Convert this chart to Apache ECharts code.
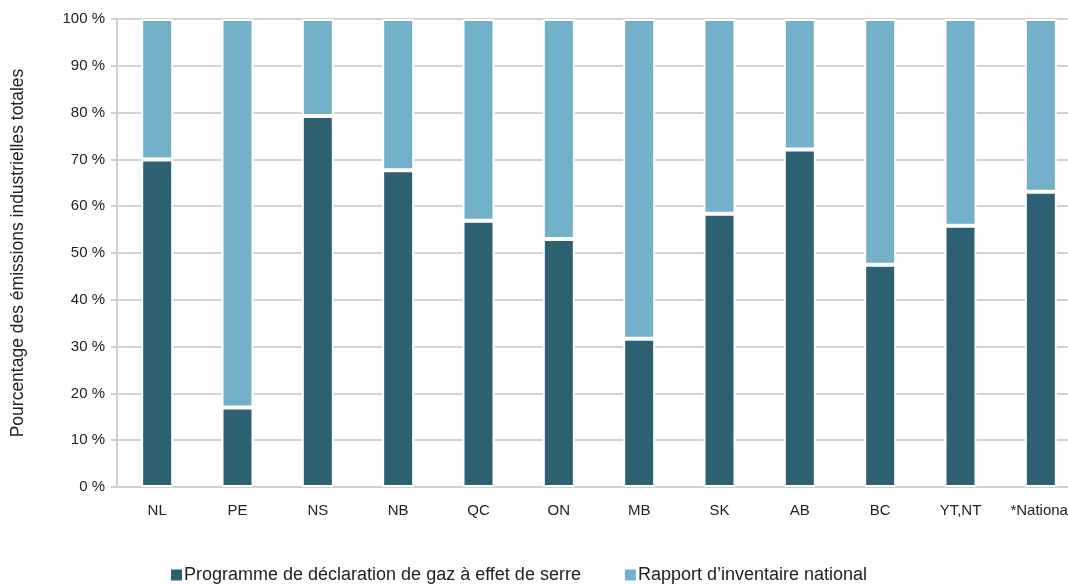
<!DOCTYPE html>
<html><head><meta charset="utf-8">
<script src="https://cdn.jsdelivr.net/npm/echarts@6/dist/echarts.min.js"></script>
<style>html,body{margin:0;padding:0;background:#fff}#c{width:1068px;height:584px}</style>
</head><body><div id="c"></div>
<script>
const categories = ['NL','PE','NS','NB','QC','ON','MB','SK','AB','BC','YT,NT','*National'];
const programmeValues = [70, 17, 79.3, 67.7, 56.9, 53, 31.7, 58.4, 72.1, 47.5, 55.8, 63.1];
const rapportValues = [30, 83, 20.7, 32.3, 43.1, 47, 68.3, 41.6, 27.9, 52.5, 44.2, 36.9];
const seriesNames = ['Programme de déclaration de gaz à effet de serre', 'Rapport d\u2019inventaire national'];
const yAxisName = 'Pourcentage des émissions industrielles totales';

const chart = echarts.init(document.getElementById('c'));
const font = 'Liberation Sans, Arial, sans-serif';
chart.setOption({
  animation: false,
  textStyle: {fontFamily: font},
  grid: {left: 117, top: 19, width: 964, bottom: 97, containLabel: false, outerBoundsMode: 'none'},
  legend: {
    bottom: -5, left: 164, itemWidth: 13, itemHeight: 13, itemGap: 42,
    icon: 'rect',
    textStyle: {fontSize: 18, color: '#222', fontFamily: font, padding: [0,0,0,-4]},
    data: seriesNames
  },
  xAxis: {
    type: 'category', data: categories,
    axisLine: {show: true, lineStyle: {color: '#cfcfcf', width: 2}},
    axisTick: {show: false},
    axisLabel: {color: '#222', fontSize: 15, margin: 16, fontFamily: font},
  },
  yAxis: {
    type: 'value', min: 0, max: 100, interval: 10,
    name: yAxisName, nameLocation: 'middle', nameGap: 90,
    nameTextStyle: {fontSize: 17.5, color: '#222', fontFamily: font},
    axisLine: {show: true, lineStyle: {color: '#cfcfcf', width: 2}},
    axisTick: {show: true, length: 6, lineStyle: {color: '#cfcfcf', width: 2}},
    axisLabel: {color: '#222', fontSize: 15, margin: 12, formatter: v => v + ' %', fontFamily: font},
    splitLine: {show: true, lineStyle: {color: '#d2d2d2', width: 2}}
  },
  series: [
    {name: seriesNames[0], type: 'bar', stack: 't', data: programmeValues, barWidth: 32,
     itemStyle: {color: '#2d6070', borderColor: '#fff', borderWidth: 2}},
    {name: seriesNames[1], type: 'bar', stack: 't', data: rapportValues, barWidth: 32,
     itemStyle: {color: '#73b0c9', borderColor: '#fff', borderWidth: 2}}
  ]
});
</script></body></html>
